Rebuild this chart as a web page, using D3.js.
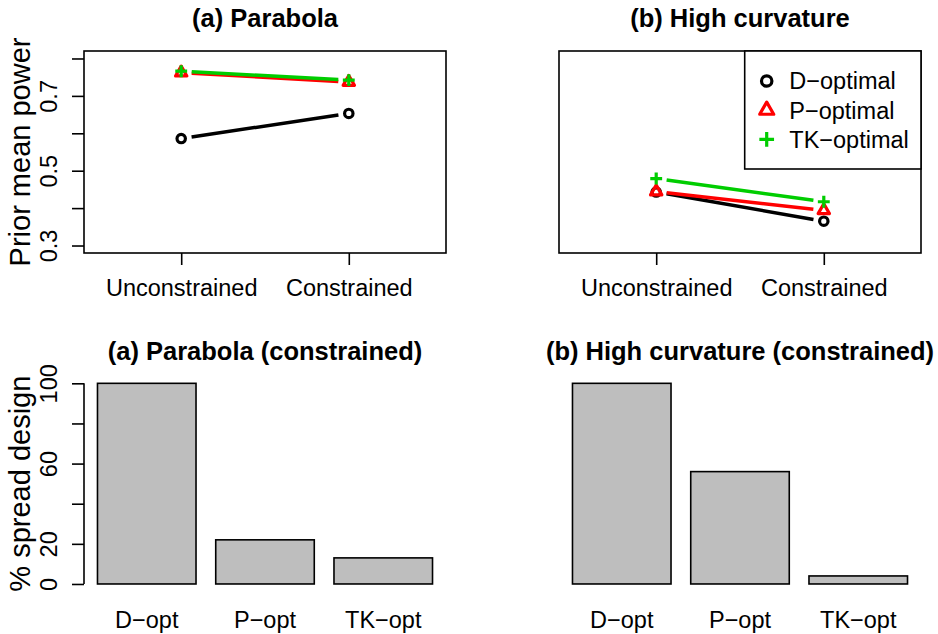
<!DOCTYPE html>
<html><head><meta charset="utf-8">
<script src="https://cdn.jsdelivr.net/npm/d3@7"></script>
<style>
body{margin:0;background:#fff}
text{font-family:"Liberation Sans",Arial,Helvetica,sans-serif;fill:#000}
</style>
</head><body><svg id="chart" width="938" height="634"></svg>
<script>
// ---------- data ----------
const lineCategories = ["Unconstrained", "Constrained"];
const seriesNames = ["D\u2212optimal", "P\u2212optimal", "TK\u2212optimal"];
const parabolaD  = [0.586, 0.653];
const parabolaP  = [0.762, 0.737];
const parabolaTK = [0.766, 0.742];
const curvatureD  = [0.443, 0.365];
const curvatureP  = [0.444, 0.394];
const curvatureTK = [0.479, 0.417];
const powerTicks = [0.3, 0.4, 0.5, 0.6, 0.7, 0.8];
const powerTickLabels = [0.3, 0.5, 0.7];
const barCategories = ["D\u2212opt", "P\u2212opt", "TK\u2212opt"];
const parabolaSpread = [100, 22, 13];
const curvatureSpread = [100, 56, 4];
const spreadTicks = [0, 20, 40, 60, 80, 100];
const spreadTickLabels = [0, 20, 60, 100];
const titles = ["(a) Parabola", "(b) High curvature", "(a) Parabola (constrained)", "(b) High curvature (constrained)"];

// ---------- style ----------
const seriesColors = ["#000000", "#ff0000", "#00cd00"];
const seriesShapes = ["circle", "triangle", "cross"];
const FONT_TICK = 23.5, FONT_TITLE = 25.5, FONT_YLAB = 29;

const svg = d3.select("#chart");
svg.append("rect").attr("width", 938).attr("height", 634).attr("fill", "#fff");

const cols = [[84, 446], [559, 921]];
const topRows = [51, 253];
const botRows = [375.3, 592];

function drawSymbol(g, shape, x, y, s, color, sw) {
  if (shape === "circle") {
    g.append("circle").attr("cx", x).attr("cy", y).attr("r", s)
      .attr("fill", "none").attr("stroke", color).attr("stroke-width", sw);
  } else if (shape === "triangle") {
    const r = 1.555 * s, xc = r * Math.sqrt(3) / 2, yc = r / 2;
    g.append("path").attr("d", `M${x},${y - r}L${x + xc},${y + yc}L${x - xc},${y + yc}Z`)
      .attr("fill", "none").attr("stroke", color).attr("stroke-width", sw).attr("stroke-linejoin", "round");
  } else {
    const h = 1.414 * s;
    g.append("path").attr("d", `M${x - h},${y}H${x + h}M${x},${y - h}V${y + h}`)
      .attr("fill", "none").attr("stroke", color).attr("stroke-width", sw);
  }
}

function styleText(sel) {
  sel.attr("font-size", FONT_TICK).attr("font-family", "Liberation Sans, Arial, sans-serif").attr("fill", "#000");
}

function linePanel(idx, series, showY) {
  const [x0, x1] = cols[idx];
  const [y0, y1] = topRows;
  const x = d3.scalePoint().domain(lineCategories).range([x0, x1]).padding(0.58);
  const y = d3.scaleLinear().domain([0.28, 0.82]).range([y1, y0]);
  const g = svg.append("g");

  // series lines (type = "b": segments with gaps around points)
  const gap = 10.5;
  series.forEach((vals, si) => {
    const pts = vals.map((v, i) => [x(lineCategories[i]), y(v)]);
    for (let i = 0; i < pts.length - 1; i++) {
      const [ax, ay] = pts[i], [bx, by] = pts[i + 1];
      const L = Math.hypot(bx - ax, by - ay), ux = (bx - ax) / L, uy = (by - ay) / L;
      g.append("line")
        .attr("x1", ax + ux * gap).attr("y1", ay + uy * gap)
        .attr("x2", bx - ux * gap).attr("y2", by - uy * gap)
        .attr("stroke", seriesColors[si]).attr("stroke-width", 3.5).attr("stroke-linecap", "butt");
    }
    pts.forEach(p => drawSymbol(g, seriesShapes[si], p[0], p[1], 4.2, seriesColors[si], 3.2));
  });

  // box
  g.append("rect").attr("x", x0).attr("y", y0).attr("width", x1 - x0).attr("height", y1 - y0)
    .attr("fill", "none").attr("stroke", "#000").attr("stroke-width", 1.6);

  // x axis
  const ax = g.append("g").attr("transform", `translate(0,${y1})`)
    .call(d3.axisBottom(x).tickSize(12).tickSizeOuter(0));
  ax.select(".domain").remove();
  ax.selectAll("line").attr("stroke", "#000").attr("stroke-width", 1.6);
  styleText(ax.selectAll("text").attr("y", 43).attr("dy", 0));

  if (showY) {
    const ay = g.append("g").attr("transform", `translate(${x0},0)`)
      .call(d3.axisLeft(y).tickValues(powerTicks).tickSize(12).tickSizeOuter(0)
        .tickFormat(d => powerTickLabels.some(v => Math.abs(v - d) < 1e-9) ? d3.format(".1f")(d) : ""));
    ay.select(".domain").remove();
    ay.selectAll("line").attr("stroke", "#000").attr("stroke-width", 1.6);
    styleText(ay.selectAll("text").attr("transform", "rotate(-90)").attr("x", 0).attr("y", -27).attr("dy", 0)
      .attr("text-anchor", "middle"));
    g.append("text").attr("transform", `translate(30,${(y0 + y1) / 2}) rotate(-90)`)
      .attr("text-anchor", "middle").attr("font-size", FONT_YLAB).text("Prior mean power");
  }

  g.append("text").attr("x", (x0 + x1) / 2).attr("y", 27).attr("text-anchor", "middle")
    .attr("font-size", FONT_TITLE).attr("font-weight", "bold").text(titles[idx]);
  return { g, x, y };
}

function barPanel(idx, vals, showY) {
  const [x0, x1] = cols[idx];
  const [y0, y1] = botRows;
  const x = d3.scaleBand().domain(barCategories).range([x0, x1]).paddingInner(0.2 / 1.2).paddingOuter(0.114);
  const y = d3.scaleLinear().domain([-4, 104]).range([y1, y0]);
  const g = svg.append("g");
  g.selectAll("rect.bar").data(vals).join("rect").attr("class", "bar")
    .attr("x", (d, i) => x(barCategories[i])).attr("width", x.bandwidth())
    .attr("y", d => y(d)).attr("height", d => y(0) - y(d))
    .attr("fill", "#bebebe").attr("stroke", "#000").attr("stroke-width", 1.6);

  const ax = g.append("g").attr("transform", `translate(0,${y1})`)
    .call(d3.axisBottom(x).tickSize(0).tickSizeOuter(0));
  ax.select(".domain").remove();
  ax.selectAll("line").remove();
  styleText(ax.selectAll("text").attr("y", 36).attr("dy", 0));

  if (showY) {
    const ay = g.append("g").attr("transform", `translate(${x0},0)`)
      .call(d3.axisLeft(y).tickValues(spreadTicks).tickSize(12).tickSizeOuter(0)
        .tickFormat(d => spreadTickLabels.includes(d) ? String(d) : ""));
    ay.select(".domain").remove();
    ay.selectAll("line").attr("stroke", "#000").attr("stroke-width", 1.6);
    ay.append("line").attr("x1", 0).attr("x2", 0)
      .attr("y1", y(spreadTicks[0])).attr("y2", y(spreadTicks[spreadTicks.length - 1]))
      .attr("stroke", "#000").attr("stroke-width", 1.6);
    styleText(ay.selectAll("text").attr("transform", "rotate(-90)").attr("x", 0).attr("y", -27).attr("dy", 0)
      .attr("text-anchor", "middle"));
    g.append("text").attr("transform", `translate(30,${(y0 + y1) / 2}) rotate(-90)`)
      .attr("text-anchor", "middle").attr("font-size", FONT_YLAB).text("% spread design");
  }
  g.append("text").attr("x", (x0 + x1) / 2).attr("y", 360).attr("text-anchor", "middle")
    .attr("font-size", FONT_TITLE).attr("font-weight", "bold").text(titles[idx + 2]);
}

linePanel(0, [parabolaD, parabolaP, parabolaTK], true);
linePanel(1, [curvatureD, curvatureP, curvatureTK], false);

// legend (top right of panel b)
{
  const lx1 = cols[1][1], ly0 = topRows[0];
  const lg = svg.append("g");
  lg.append("rect").attr("x", 744.7).attr("y", ly0).attr("width", lx1 - 744.7).attr("height", 118)
    .attr("fill", "#fff").attr("stroke", "#000").attr("stroke-width", 1.6);
  seriesNames.forEach((name, i) => {
    const cy = 81 + i * 29.2;
    drawSymbol(lg, seriesShapes[i], 766.7, cy, 5.2, seriesColors[i], 3.2);
    lg.append("text").attr("x", 789.3).attr("y", cy + 8.3).attr("font-size", FONT_TICK).text(name);
  });
}

barPanel(0, parabolaSpread, true);
barPanel(1, curvatureSpread, false);
</script>
</body></html>
